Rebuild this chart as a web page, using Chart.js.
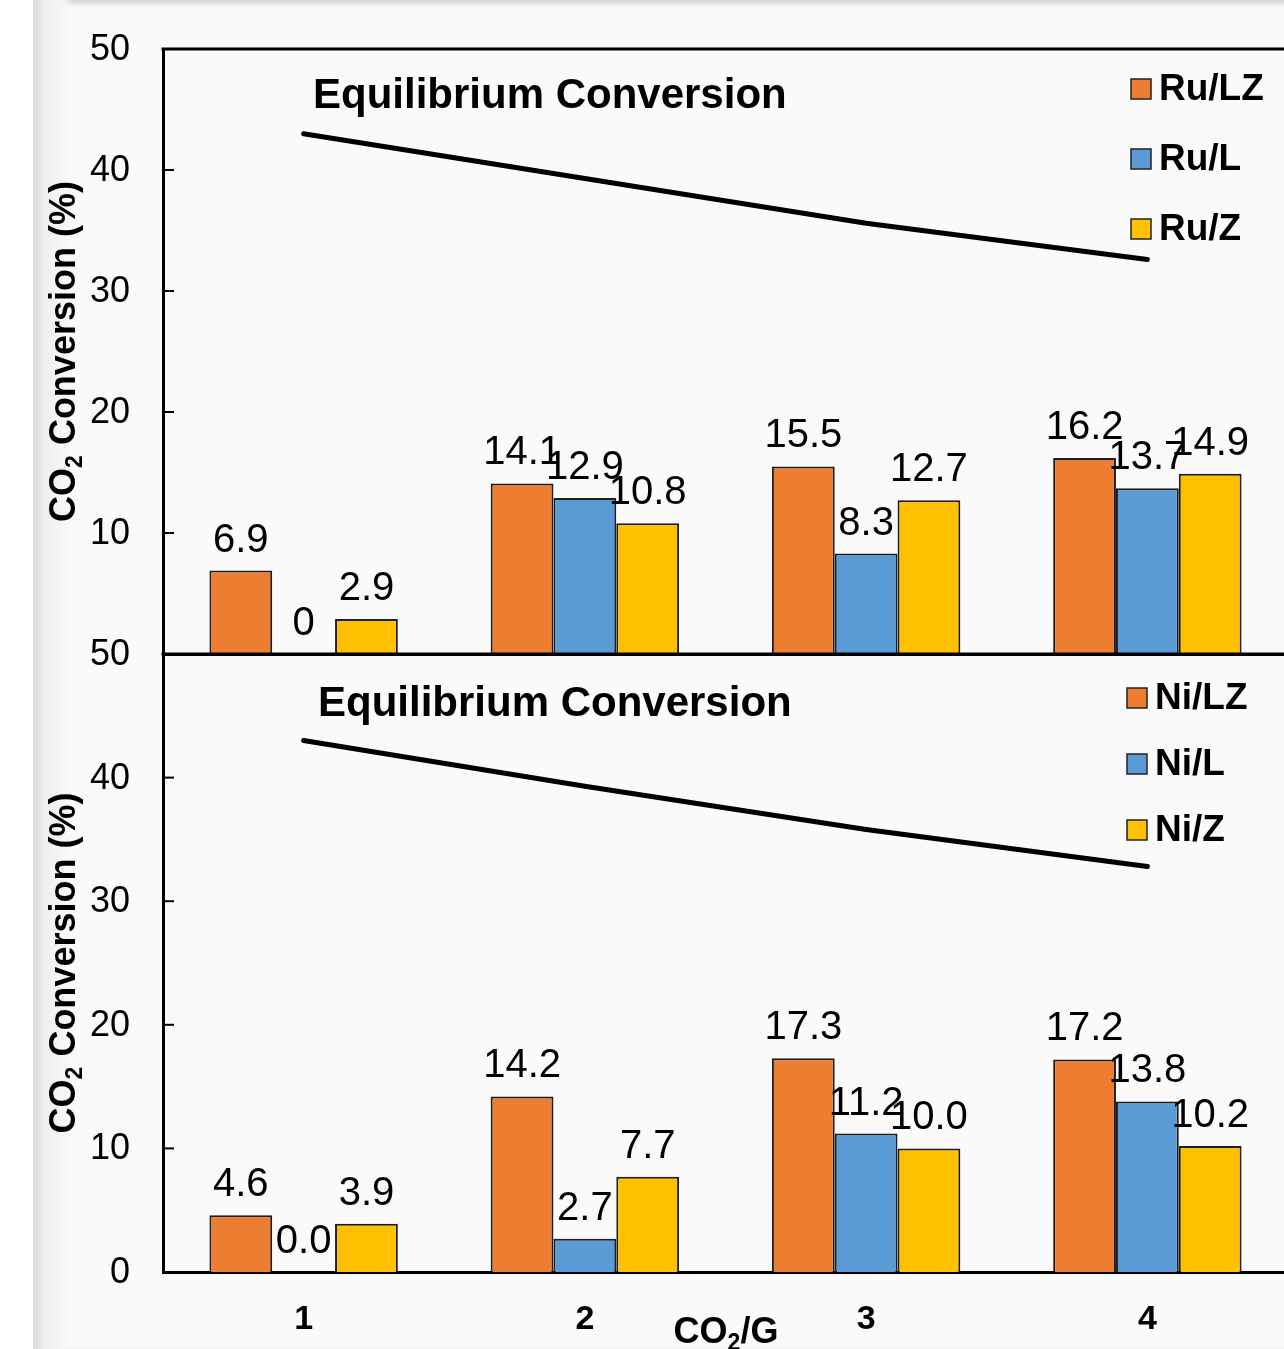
<!DOCTYPE html>
<html>
<head>
<meta charset="utf-8">
<script src="https://cdn.jsdelivr.net/npm/chart.js@4.4.1/dist/chart.umd.min.js"></script>
<style>
  html, body { margin: 0; padding: 0; background: #fff; overflow: hidden; }
  #page { position: relative; width: 1284px; height: 1349px; overflow: hidden; }
  #frame {
    position: absolute; left: 33px; top: 0; width: 1251px; height: 1349px;
    background: #fafafa;
    box-shadow: inset 6px 3px 6px rgba(0,0,0,0.18);
  }
  #frame:before {
    content: ""; position: absolute; left: 0; top: 0; width: 40px; height: 100%;
    background: linear-gradient(to right, #d9d9d9, #efefef 12px, #f6f6f6 30px, rgba(250,250,250,0));
  }
  canvas { position: absolute; left: 0; }
  #top { top: 0; }
  #bottom { top: 600px; }
</style>
</head>
<body>
<div id="page">
  <div id="frame"></div>
  <canvas id="top" width="1288" height="660"></canvas>
  <canvas id="bottom" width="1288" height="749"></canvas>
</div>
<script>
// CO2/G ratio
const categories = ['1', '2', '3', '4']

// Ru catalysts
const ruLZ = [6.9, 14.1, 15.5, 16.2]
const ruL = [0, 12.9, 8.3, 13.7]
const ruZ = [2.9, 10.8, 12.7, 14.9]
const ruEquilibrium = [43.0, 39.3, 35.6, 32.6]

// Ni catalysts
const niLZ = [4.6, 14.2, 17.3, 17.2]
const niL = [0.0, 2.7, 11.2, 13.8]
const niZ = [3.9, 7.7, 10.0, 10.2]
const niEquilibrium = [43.0, 39.3, 35.8, 32.8]

const yTicks = [0, 10, 20, 30, 40, 50]

const ORANGE = '#ED7D31'
const BLUE = '#5B9BD5'
const YELLOW = '#FFC000'
const FONT = '"Liberation Sans", Arial, sans-serif'

// draws text pieces, subscript pieces smaller and lower
const drawParts = (ctx, parts, x, y, size, align) => {
  const widths = parts.map(p => {
    ctx.font = 'bold ' + (p.sub ? Math.round(size * 0.65) : size) + 'px ' + FONT
    return ctx.measureText(p.t).width
  })
  const total = widths.reduce((a, b) => a + b, 0)
  let cx = align === 'center' ? x - total / 2 : x
  ctx.textAlign = 'left'
  ctx.textBaseline = 'alphabetic'
  parts.forEach((p, i) => {
    ctx.font = 'bold ' + (p.sub ? Math.round(size * 0.65) : size) + 'px ' + FONT
    ctx.fillText(p.t, cx, p.sub ? y + size * 0.2 : y)
    cx += widths[i]
  })
}

const panelPlugin = {
  id: 'panel',
  afterDatasetsDraw(chart, args, opts) {
    const ctx = chart.ctx
    const area = chart.chartArea
    const ys = chart.scales.y
    ctx.save()
    ctx.fillStyle = '#000'

    // value labels over the bars
    ctx.font = '40px ' + FONT
    ctx.textAlign = 'center'
    ctx.textBaseline = 'alphabetic'
    chart.data.datasets.forEach((ds, di) => {
      if (ds.type === 'line') return
      chart.getDatasetMeta(di).data.forEach((bar, i) => {
        const v = ds.data[i]
        const txt = opts.decimals ? v.toFixed(1) : String(v)
        ctx.fillText(txt, bar.x, bar.y - 19)
      })
    })

    // equilibrium label
    ctx.font = 'bold 42px ' + FONT
    ctx.textAlign = 'left'
    ctx.textBaseline = 'middle'
    ctx.fillText('Equilibrium Conversion', area.left + opts.titleX, area.top + opts.titleY)

    // legend (bars only)
    let row = 0
    chart.data.datasets.forEach(ds => {
      if (ds.type === 'line') return
      const y = area.top + opts.legendY + row * opts.legendGap
      ctx.fillStyle = ds.backgroundColor
      ctx.fillRect(opts.legendX, y - 10, 20, 20)
      ctx.strokeStyle = '#222'
      ctx.lineWidth = 1.5
      ctx.strokeRect(opts.legendX, y - 10, 20, 20)
      ctx.fillStyle = '#000'
      ctx.font = 'bold 37px ' + FONT
      ctx.textBaseline = 'middle'
      ctx.fillText(ds.label, opts.legendX + 28, y + 1)
      row++
    })

    // frame top line, inward y ticks and their labels
    ctx.strokeStyle = '#000'
    ctx.lineWidth = 3
    ctx.beginPath()
    ctx.moveTo(area.left - 1.5, area.top)
    ctx.lineTo(area.right, area.top)
    ctx.stroke()
    ctx.lineWidth = 2
    ctx.font = '36px ' + FONT
    ctx.textAlign = 'right'
    ctx.textBaseline = 'middle'
    yTicks.forEach(t => {
      const py = ys.getPixelForValue(t)
      ctx.beginPath()
      ctx.moveTo(area.left, py)
      ctx.lineTo(area.left + 11, py)
      ctx.stroke()
      if (!(opts.hideZero && t === 0)) ctx.fillText(String(t), 130, py + 1)
    })

    // y axis title
    ctx.save()
    ctx.translate(opts.yTitleX, (area.top + area.bottom) / 2)
    ctx.rotate(-Math.PI / 2)
    drawParts(ctx, [{t: 'CO'}, {t: '2', sub: true}, {t: ' Conversion (%)'}], 0, 13, 36, 'center')
    ctx.restore()

    // x axis title
    if (opts.xTitle) {
      drawParts(ctx, [{t: 'CO'}, {t: '2', sub: true}, {t: '/G'}], 726, area.bottom + 71, 36, 'center')
    }
    ctx.restore()
  }
}

const buildChart = (id, names, series, equilibrium, opts) => {
  const colors = [ORANGE, BLUE, YELLOW]
  const datasets = names.map((name, i) => ({
    type: 'bar',
    label: name,
    data: series[i],
    backgroundColor: colors[i],
    borderColor: '#1e1e1e',
    borderWidth: 2,
    categoryPercentage: 0.67,
    barPercentage: 1.0,
    order: 2
  }))
  datasets.push({
    type: 'line',
    label: 'Equilibrium Conversion',
    data: equilibrium,
    borderColor: '#000',
    borderWidth: 5,
    borderCapStyle: 'round',
    pointRadius: 0,
    tension: 0,
    fill: false,
    order: 1
  })

  const chart = new Chart(document.getElementById(id), {
    type: 'bar',
    data: { labels: categories, datasets: datasets },
    plugins: [panelPlugin],
    options: {
      responsive: false,
      animation: false,
      devicePixelRatio: 1,
      layout: { padding: { top: opts.areaTop, left: 0, right: 0, bottom: 0 } },
      plugins: {
        legend: { display: false },
        tooltip: { enabled: false },
        panel: opts
      },
      scales: {
        x: {
          offset: true,
          grid: { display: false, drawTicks: false },
          border: { display: true, color: '#000', width: 3 },
          ticks: {
            display: opts.xTicks,
            color: '#000',
            padding: 27,
            font: { family: FONT, size: 34, weight: 'bold' }
          },
          afterFit: s => { s.height = opts.xHeight }
        },
        y: {
          min: 0,
          max: 50,
          grid: { display: false, drawTicks: false },
          border: { display: true, color: '#000', width: 3 },
          ticks: { display: false, stepSize: 10 },
          afterFit: s => { s.width = 163 }
        }
      }
    }
  })

  // nudge the plot area onto the wanted pixel rows if the layout drifted
  for (let k = 0; k < 3; k++) {
    const a = chart.chartArea
    const pad = chart.options.layout.padding
    const dt = opts.areaTop - a.top
    const db = a.bottom - opts.areaBottom
    if (Math.abs(dt) < 0.5 && Math.abs(db) < 0.5) break
    pad.top += dt
    pad.bottom = (pad.bottom || 0) + db
    chart.update()
  }
  return chart
}

buildChart('top', ['Ru/LZ', 'Ru/L', 'Ru/Z'], [ruLZ, ruL, ruZ], ruEquilibrium, {
  areaTop: 49, areaBottom: 654, xHeight: 6, xTicks: false, hideZero: true, decimals: false, xTitle: false,
  titleX: 150, titleY: 47, legendX: 1131, legendY: 40, legendGap: 70, yTitleX: 62
})

buildChart('bottom', ['Ni/LZ', 'Ni/L', 'Ni/Z'], [niLZ, niL, niZ], niEquilibrium, {
  areaTop: 54, areaBottom: 672, xHeight: 77, xTicks: true, hideZero: false, decimals: true, xTitle: true,
  titleX: 155, titleY: 50, legendX: 1127, legendY: 44, legendGap: 66, yTitleX: 62
})
</script>
</body>
</html>
